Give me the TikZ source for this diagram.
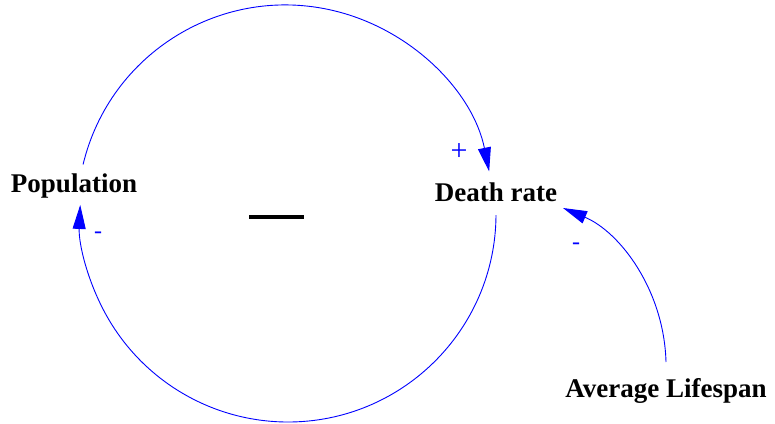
\documentclass[tikz,border=0pt]{standalone}
\usepackage{fontspec}
\setmainfont{Liberation Serif}
\usetikzlibrary{arrows.meta}
\definecolor{linkblue}{RGB}{0,0,255}
\begin{document}
\begin{tikzpicture}[x=1pt,y=-1pt,
  varlabel/.style={font=\fontsize{27}{30}\selectfont\bfseries, text=black, inner sep=0pt},
  link/.style={draw=linkblue, line width=0.9pt, -{Triangle[length=24pt,width=13pt]}},
  pol/.style={text=linkblue, font=\fontsize{24}{26}\selectfont, inner sep=0pt}]
\useasboundingbox (0,0) rectangle (775,423);
\node[varlabel] (pop) at (74,186) {Population};
\node[varlabel] (death) at (496,192) {Death rate};
\node[varlabel] (life) at (666,391) {Average Lifespan};
% loop circle centre (288,214), radius 208
\coordinate (popOut) at (83.1,164.4);
\coordinate (deathOut) at (496,215.1);
\coordinate (lifeOut) at (666,362);
\coordinate (deathIn) at (563,208);
\draw[link] (popOut) arc[start angle=166.5, end angle=11.5, radius=208pt];
\draw[link] (deathOut) arc[start angle=-0.3, end angle=-182.5, radius=208pt];
\draw[link] (lifeOut) .. controls (664,290) and (620,232) .. (deathIn);
\node[pol, font=\fontsize{30}{32}\selectfont] (plus) at (459,152) {+};
\node[pol] (minusPop) at (98,235) {-};
\node[pol] (minusLife) at (576,246) {-};
\node[draw=none, fill=black, minimum width=55pt, minimum height=3.5pt, inner sep=0pt] (loopsign) at (276,217) {};
\end{tikzpicture}
\end{document}
